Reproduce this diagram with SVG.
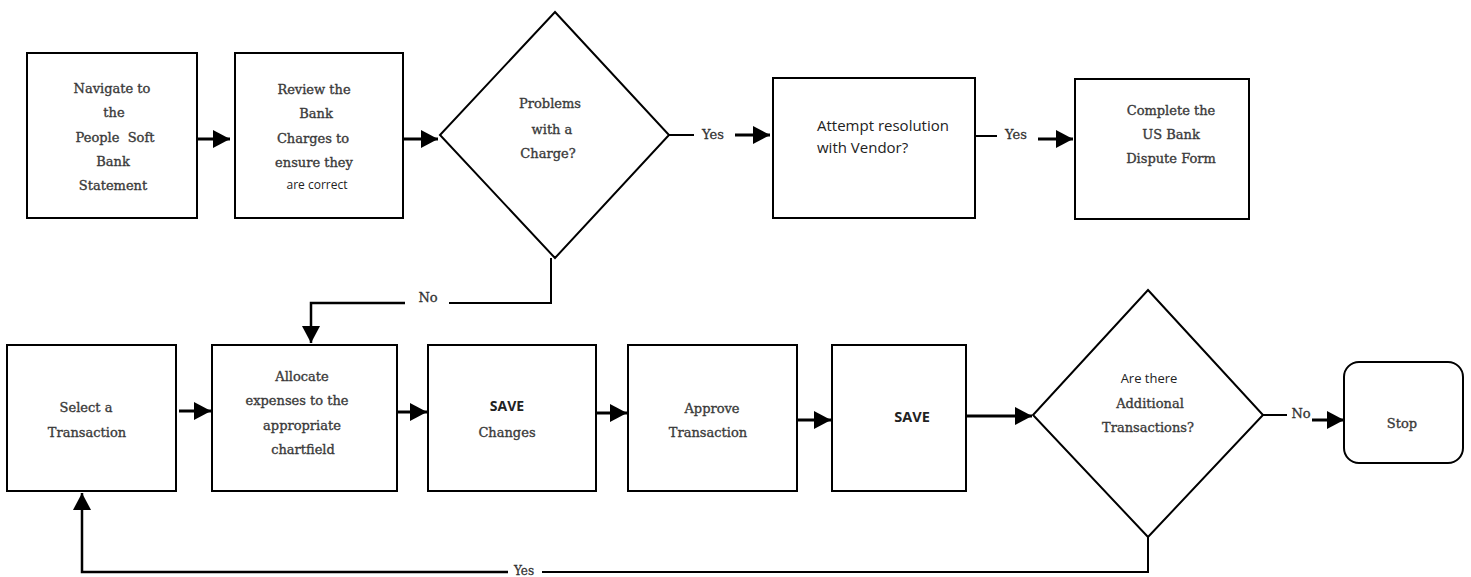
<svg xmlns="http://www.w3.org/2000/svg" width="1471" height="577" viewBox="0 0 1471 577">
<style>
.box{fill:#fff;stroke:#000;stroke-width:2}
.t{font-family:"DejaVu Serif","Liberation Serif",serif;font-size:13px;fill:#3a3a3a;stroke:#3a3a3a;stroke-width:0.35;text-anchor:middle}
.s{font-family:"Open Sans","Liberation Sans",sans-serif;fill:#222;text-anchor:middle}
.c{fill:none;stroke:#000;stroke-width:3}
.l{fill:none;stroke:#000;stroke-width:2}
.lbl{font-family:"DejaVu Serif","Liberation Serif",serif;font-size:13px;fill:#333;stroke:#333;stroke-width:0.3;text-anchor:middle}
</style>
<defs>
<marker id="ah" markerUnits="userSpaceOnUse" markerWidth="18" markerHeight="18" refX="17" refY="9" orient="auto">
<path d="M0,0 L17,9 L0,18 Z" fill="#000"/>
</marker>
</defs>
<rect width="1471" height="577" fill="#fff"/>
<g id="n1"><rect class="box" x="27" y="53" width="170" height="165"/>
<text class="t" x="112" y="93">Navigate to</text><text class="t" x="114" y="117">the</text><text class="t" x="115" y="142" xml:space="preserve">People  Soft</text><text class="t" x="113" y="166">Bank</text><text class="t" x="113" y="190">Statement</text></g>
<g id="n2"><rect class="box" x="235" y="53" width="168" height="165"/>
<text class="t" x="314" y="94">Review the</text><text class="t" x="316" y="118">Bank</text><text class="t" x="313" y="143">Charges to</text><text class="t" x="314" y="167">ensure they</text><text class="s" x="317" y="189" style="font-size:12px">are correct</text></g>
<g id="n3"><polygon class="box" points="555,12 669,135 555,258 440,135"/>
<text class="t" x="550" y="108">Problems</text><text class="t" x="552" y="134">with a</text><text class="t" x="548" y="158">Charge?</text></g>
<g id="n4"><rect class="box" x="773" y="78" width="202" height="140"/>
<text class="s" x="817" y="131" style="font-size:15px;text-anchor:start">Attempt resolution</text><text class="s" x="817" y="153" style="font-size:15px;text-anchor:start">with Vendor?</text></g>
<g id="n5"><rect class="box" x="1075" y="79" width="174" height="140"/>
<text class="t" x="1171" y="115">Complete the</text><text class="t" x="1171" y="139">US Bank</text><text class="t" x="1171" y="163">Dispute Form</text></g>
<g id="n6"><rect class="box" x="7" y="345" width="169" height="146"/>
<text class="t" x="86" y="412">Select a</text><text class="t" x="87" y="437">Transaction</text></g>
<g id="n7"><rect class="box" x="212" y="345" width="185" height="146"/>
<text class="t" x="302" y="381">Allocate</text><text class="t" x="297" y="405">expenses to the</text><text class="t" x="302" y="430">appropriate</text><text class="t" x="303" y="454">chartfield</text></g>
<g id="n8"><rect class="box" x="428" y="345" width="168" height="146"/>
<text class="s" x="507" y="411" style="font-size:14px;font-weight:bold">SAVE</text><text class="t" x="507" y="437">Changes</text></g>
<g id="n9"><rect class="box" x="628" y="345" width="169" height="146"/>
<text class="t" x="712" y="413">Approve</text><text class="t" x="708" y="437">Transaction</text></g>
<g id="n10"><rect class="box" x="832" y="345" width="134" height="146"/>
<text class="s" x="912" y="422" style="font-size:14.5px;font-weight:bold">SAVE</text></g>
<g id="n11"><polygon class="box" points="1148,290 1263,415 1148,537 1033,415"/>
<text class="s" x="1149" y="383" style="font-size:13px">Are there</text><text class="t" x="1150" y="408">Additional</text><text class="t" x="1148" y="432">Transactions?</text></g>
<g id="n12"><rect class="box" x="1344" y="362" width="119" height="101" rx="15"/>
<text class="t" x="1402" y="428">Stop</text></g>
<g id="connectors">
<line class="c" x1="197" y1="139" x2="230" y2="139" marker-end="url(#ah)"/>
<line class="c" x1="403" y1="139" x2="438" y2="139" marker-end="url(#ah)"/>
<line class="l" x1="669" y1="135" x2="694" y2="135"/>
<text class="lbl" x="713" y="139">Yes</text>
<line class="c" x1="735" y1="135" x2="770" y2="135" marker-end="url(#ah)"/>
<line class="l" x1="975" y1="136" x2="997" y2="136"/>
<text class="lbl" x="1016" y="139">Yes</text>
<line class="c" x1="1038" y1="139" x2="1073" y2="139" marker-end="url(#ah)"/>
<polyline class="l" points="551,258 551,303 449,303"/>
<text class="lbl" x="428" y="302">No</text>
<polyline class="c" points="405,303 311,303 311,343" marker-end="url(#ah)" style="stroke-width:2.5"/>
<line class="c" x1="179" y1="411" x2="211" y2="411" marker-end="url(#ah)"/>
<line class="c" x1="397" y1="412" x2="427" y2="412" marker-end="url(#ah)"/>
<line class="c" x1="597" y1="413" x2="627" y2="413" marker-end="url(#ah)"/>
<line class="c" x1="798" y1="420" x2="831" y2="420" marker-end="url(#ah)"/>
<line class="c" x1="966" y1="416" x2="1032" y2="416" marker-end="url(#ah)"/>
<line class="l" x1="1263" y1="415" x2="1287" y2="415"/>
<text class="lbl" x="1301" y="418">No</text>
<line class="c" x1="1312" y1="420" x2="1344" y2="420" marker-end="url(#ah)"/>
<polyline class="l" points="1148,537 1148,572 542,572"/>
<text class="lbl" x="524" y="575" style="font-size:12px">Yes</text>
<polyline class="c" points="508,572 82,572 82,493" marker-end="url(#ah)" style="stroke-width:2.5"/>
</g>
</svg>
